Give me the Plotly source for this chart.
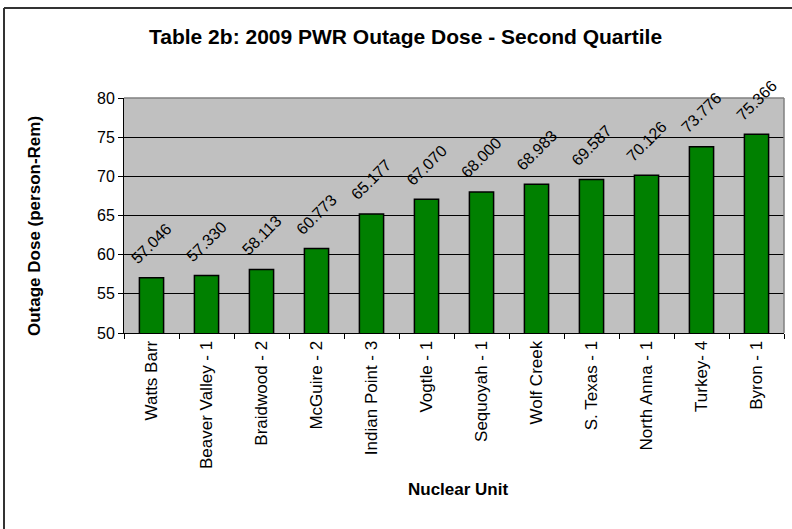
import plotly.graph_objects as go

units = ["Watts Barr", "Beaver Valley - 1", "Braidwood - 2", "McGuire - 2", "Indian Point - 3",
         "Vogtle - 1", "Sequoyah - 1", "Wolf Creek", "S. Texas - 1", "North Anna - 1",
         "Turkey- 4", "Byron - 1"]
dose = [57.046, 57.330, 58.113, 60.773, 65.177, 67.070, 68.000, 68.983, 69.587, 70.126, 73.776, 75.366]
y_ticks = [50, 55, 60, 65, 70, 75, 80]

W, H = 792, 529
L, R, T, B = 124, 8, 98, 196
PW, PH = W - L - R, H - T - B
FONT = "Liberation Sans, Arial, sans-serif"


def px(xp):
    return (xp - L) / PW


def py(yp):
    return 1 - (yp - T) / PH


fig = go.Figure()
fig.add_trace(go.Bar(
    x=units, y=dose,
    marker=dict(color="#008000", line=dict(color="#000000", width=1.5)),
    cliponaxis=False, hoverinfo="skip",
))

annotations = []
for u, v in zip(units, dose):
    annotations.append(dict(
        x=u, y=v, xref="x", yref="y", text=f"{v:.3f}", showarrow=False,
        textangle=-45, xanchor="center", yanchor="bottom", yshift=8,
        font=dict(family=FONT, size=16, color="#000000"),
    ))
annotations.append(dict(
    x=px(34), y=py(226), xref="paper", yref="paper", text="<b>Outage Dose (person-Rem)</b>",
    showarrow=False, textangle=-90, xanchor="center", yanchor="middle",
    font=dict(family=FONT, size=17, color="#000000"),
))
annotations.append(dict(
    x=px(458), y=py(489), xref="paper", yref="paper", text="<b>Nuclear Unit</b>",
    showarrow=False, xanchor="center", yanchor="middle",
    font=dict(family=FONT, size=17, color="#000000"),
))
annotations.append(dict(
    x=px(405), y=py(37), xref="paper", yref="paper",
    text="<b>Table 2b: 2009 PWR Outage Dose - Second Quartile</b>",
    showarrow=False, xanchor="center", yanchor="middle",
    font=dict(family=FONT, size=21, color="#000000"),
))

fig.update_layout(
    width=W, height=H,
    margin=dict(l=L, r=R, t=T, b=B, autoexpand=False),
    paper_bgcolor="#FFFFFF", plot_bgcolor="#C0C0C0",
    showlegend=False, bargap=0.56,
    xaxis=dict(
        type="category", tickangle=-90, ticks="outside", tickson="boundaries", ticklen=5,
        tickcolor="#000000", showline=True, linecolor="#000000", linewidth=1, showgrid=False,
        tickfont=dict(family=FONT, size=17, color="#000000"), automargin=False,
    ),
    yaxis=dict(
        range=[50, 80], tickvals=y_ticks, ticks="outside", ticklen=5, tickcolor="#000000",
        showline=True, linecolor="#000000", linewidth=1,
        showgrid=True, gridcolor="#000000", gridwidth=1, zeroline=False,
        tickfont=dict(family=FONT, size=16, color="#000000"), automargin=False,
    ),
    annotations=annotations,
    shapes=[
        dict(type="line", xref="paper", yref="paper", x0=0, x1=1, y0=1, y1=1,
             line=dict(color="#808080", width=1.5)),
        dict(type="line", xref="paper", yref="paper", x0=1, x1=1, y0=0, y1=1,
             line=dict(color="#808080", width=1.5)),
        # outer frame: only its top and left edges fall inside the picture
        dict(type="line", xref="paper", yref="paper",
             x0=px(4), x1=px(4), y0=py(8), y1=py(H + 10),
             line=dict(color="#333333", width=2), layer="below"),
        dict(type="line", xref="paper", yref="paper",
             x0=px(4), x1=px(W + 10), y0=py(8), y1=py(8),
             line=dict(color="#333333", width=2), layer="below"),
    ],
)

fig.write_html("out.html", config={"displayModeBar": False},
               post_script="document.body.style.margin='0';")
